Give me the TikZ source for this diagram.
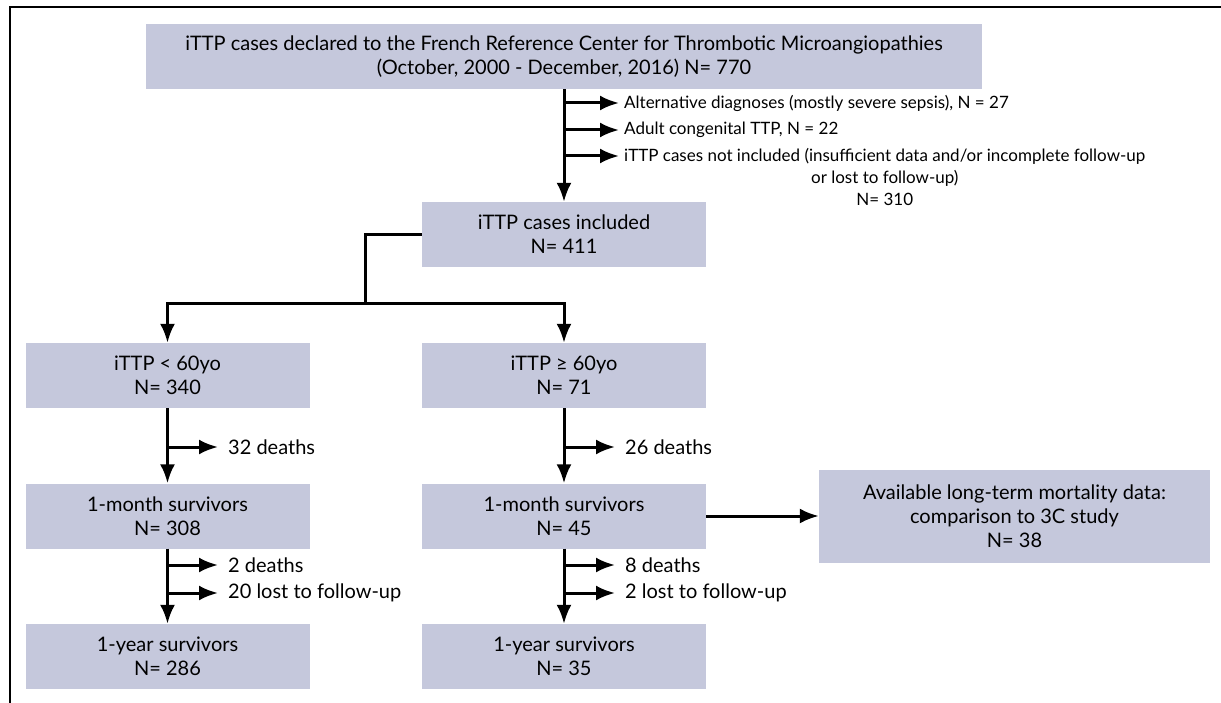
\documentclass[tikz,border=0pt]{standalone}
\usepackage{fontspec}
\setmainfont{Lato}
\usetikzlibrary{arrows.meta, positioning, calc}
\definecolor{boxfill}{RGB}{197,200,220}

\begin{document}
\begin{tikzpicture}[
        x=1pt, y=-1pt,
        box/.style={
            fill=boxfill,
            align=center,
            inner sep=0pt,
            font=\fontsize{20}{24}\selectfont
        },
        widebox/.style={box, minimum width=836pt, minimum height=65pt},
        colbox/.style={box, minimum width=284pt, minimum height=65pt},
        arrow/.style={
            -{Latex[length=19pt, width=15pt]},
            line width=3pt
        },
        link/.style={line width=3pt},
        frame/.style={line width=2.2pt},
        note/.style={
            font=\fontsize{17}{22}\selectfont,
            inner sep=0pt, anchor=west, align=center
        },
        count/.style={
            font=\fontsize{20}{24}\selectfont,
            inner sep=0pt, anchor=west
        }
    ]

    \useasboundingbox (0,0) rectangle (1221,703);
    \draw[frame] (10,703) -- (10,7) -- (1221,7);

    \node[widebox] (declared) at (564,56.5)
        {iTTP cases declared to the French Reference Center for Thrombotic Microangiopathies\\(October, 2000 - December, 2016) N= 770};
    \node[colbox] (included) at (564,234.5) {iTTP cases included\\N= 411};

    \node[colbox] (young) at (167.5,375.5) {iTTP < 60yo\\N= 340};
    \node[colbox] (old) at (564,375.5) {iTTP ≥ 60yo\\N= 71};
    \node[colbox] (young1m) at (167.5,516) {1-month survivors\\N= 308};
    \node[colbox] (old1m) at (564,516) {1-month survivors\\N= 45};
    \node[colbox] (young1y) at (167.5,656.5) {1-year survivors\\N= 286};
    \node[colbox] (old1y) at (564,656.5) {1-year survivors\\N= 35};
    \node[box, minimum width=391pt, minimum height=93pt] (longterm) at (1014.5,516)
        {Available long-term mortality data:\\comparison to 3C study\\N= 38};

    % excluded cases
    \node[note] (altdiag) at (624,103) {Alternative diagnoses (mostly severe sepsis), N = 27};
    \node[note] (congenital) at (624,130) {Adult congenital TTP, N = 22};
    \coordinate (notincltip) at (619,156);
    \node[note, anchor=north west] (notincl) at (624,148)
        {iTTP cases not included (insufficient data and/or incomplete follow-up\\or lost to follow-up)\\N= 310};

    % losses
    \node[count] (deathyoung) at (228,447) {32 deaths};
    \node[count] (deathold) at (625,447) {26 deaths};
    \node[count] (deathyoung2) at (228,565) {2 deaths};
    \node[count] (lostyoung) at (228,593) {20 lost to follow-up};
    \node[count] (deathold2) at (625,565) {8 deaths};
    \node[count] (lostold) at (625,593) {2 lost to follow-up};

    \draw[arrow] (declared) -- (included);
    \draw[arrow] (declared.south |- altdiag.west) -- ([xshift=-5pt]altdiag.west);
    \draw[arrow] (declared.south |- congenital.west) -- ([xshift=-5pt]congenital.west);
    \draw[arrow] (declared.south |- notincltip) -- (notincltip);

    \coordinate (split) at (365,304);
    \draw[link] (included.west) -| (split);
    \draw[arrow] (split) -| (young.north);
    \draw[arrow] (split) -| (old.north);

    \draw[arrow] (young) -- (young1m);
    \draw[arrow] (young1m) -- (young1y);
    \draw[arrow] (old) -- (old1m);
    \draw[arrow] (old1m) -- (old1y);
    \draw[arrow] (old1m) -- (longterm);

    \draw[arrow] (young.south |- deathyoung.west) -- ([xshift=-10pt]deathyoung.west);
    \draw[arrow] (young1m.south |- deathyoung2.west) -- ([xshift=-10pt]deathyoung2.west);
    \draw[arrow] (young1m.south |- lostyoung.west) -- ([xshift=-10pt]lostyoung.west);
    \draw[arrow] (old.south |- deathold.west) -- ([xshift=-10pt]deathold.west);
    \draw[arrow] (old1m.south |- deathold2.west) -- ([xshift=-10pt]deathold2.west);
    \draw[arrow] (old1m.south |- lostold.west) -- ([xshift=-10pt]lostold.west);

\end{tikzpicture}
\end{document}
